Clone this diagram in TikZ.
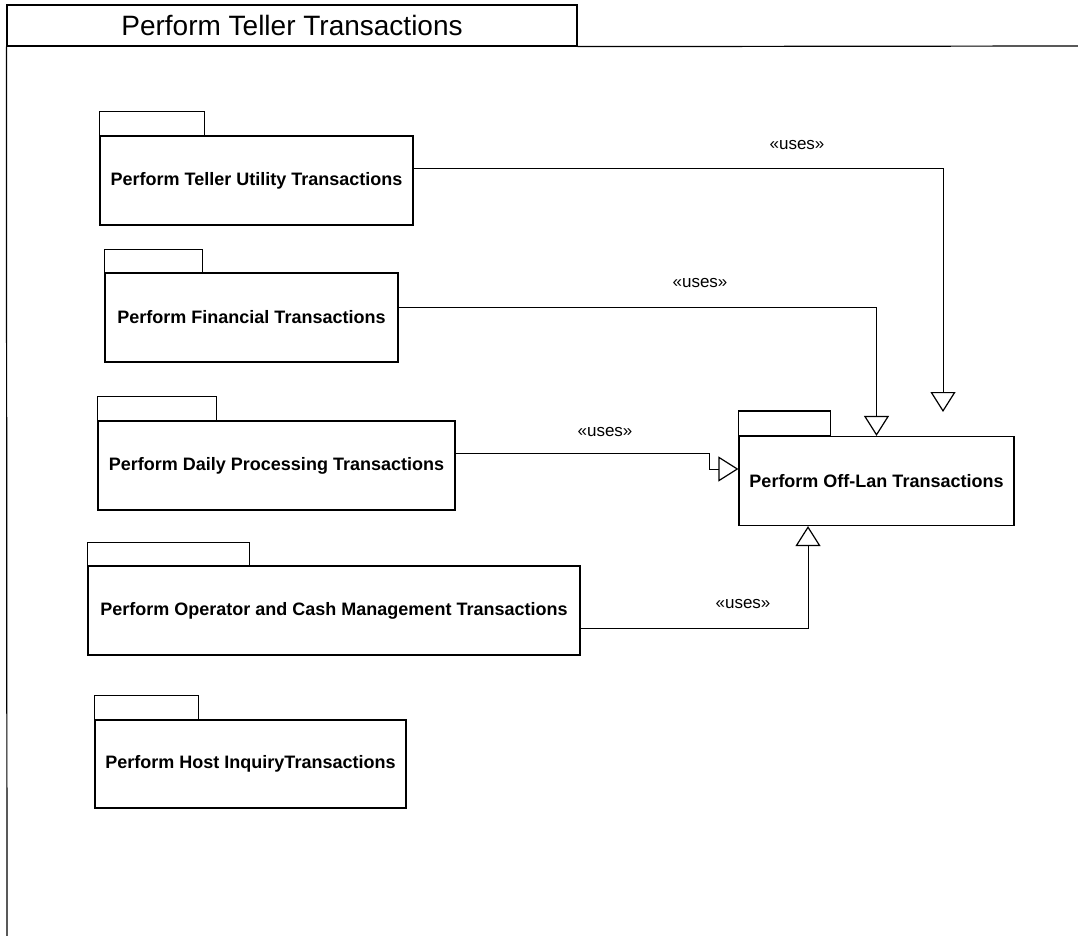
\documentclass[tikz,border=0pt]{standalone}
\usepackage{fontspec}
\setmainfont{Liberation Sans}
\usetikzlibrary{arrows.meta}
\tikzstyle{pkg} = [draw, line width=1.2pt, rectangle, minimum height=89pt,
    font=\fontsize{18}{20}\selectfont\bfseries, inner sep=0pt]
\tikzstyle{tab} = [draw, line width=1.2pt]
\tikzstyle{uses} = [draw, line width=0.9pt,
    -{Triangle[open, length=20pt, width=25pt, line width=1.2pt]}]
\tikzstyle{stereo} = [font=\fontsize{17}{19}\selectfont, inner sep=0pt]

\begin{document}
\begin{tikzpicture}[x=1pt, y=-1pt]
          \useasboundingbox (0,0) rectangle (1078,936);

          % Frame
          \node [draw, line width=1.2pt, minimum width=570pt, minimum height=41pt,
              font=\fontsize{28}{32}\selectfont] (title) at (292,25.5) {Perform Teller Transactions};
          \draw [line width=1.2pt] (title.south west) -- (7,936);
          \draw [line width=1.2pt] (title.south east) -- (1078,46);

          % Place the packages
          \node [pkg, minimum width=313pt] (util) at (256.5,180.5) {Perform Teller Utility Transactions};
          \node [pkg, minimum width=293pt] (fin) at (251.5,317.5) {Perform Financial Transactions};
          \node [pkg, minimum width=357pt] (daily) at (276.5,465.5) {Perform Daily Processing Transactions};
          \node [pkg, minimum width=492pt] (oper) at (334,610.5) {Perform Operator and Cash Management Transactions};
          \node [pkg, minimum width=311pt, minimum height=88pt] (host) at (250.5,764) {Perform Host InquiryTransactions};
          \node [pkg, minimum width=275pt] (offlan) at (876.5,481) {Perform Off-Lan Transactions};

          % Tabs
          \draw [tab] (util.north west) rectangle ++(105,-24);
          \draw [tab] (fin.north west) rectangle ++(98,-23);
          \draw [tab] (daily.north west) rectangle ++(119,-24);
          \draw [tab] (oper.north west) rectangle ++(162,-23);
          \draw [tab] (host.north west) rectangle ++(104,-24);
          \draw [tab] (offlan.north west) rectangle ++(92,-25);

          % Connections
          \coordinate (utilend) at (943,412);
          \coordinate (jog) at (709,453);
          \draw [uses] (util.east |- 0,168) -| (utilend);
          \draw [uses] (fin.east |- 0,307) -| (offlan.north);
          \draw [uses] (daily.east |- 0,453) -- (jog) |- (offlan.west |- 0,469);
          \draw [uses] (oper.east |- 0,628) -| (offlan.south -| 808,0);

          % Stereotypes
          \node [stereo] (uses1) at (797,145) {«uses»};
          \node [stereo] (uses2) at (700,283) {«uses»};
          \node [stereo] (uses3) at (605,432) {«uses»};
          \node [stereo] (uses4) at (743,604) {«uses»};
      \end{tikzpicture}
\end{document}
